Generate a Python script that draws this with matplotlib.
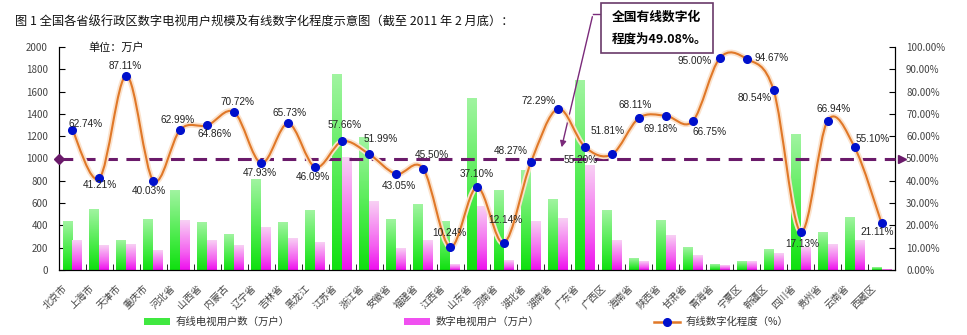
import numpy as np
import matplotlib
matplotlib.use("Agg")
import matplotlib.pyplot as plt
import matplotlib.patheffects as pe
from matplotlib.path import Path
from matplotlib.patches import PathPatch, Patch, Rectangle
from matplotlib.lines import Line2D
from matplotlib.colors import LinearSegmentedColormap

plt.rcParams['font.family'] = ['Noto Sans CJK SC', 'DejaVu Sans']

provinces = ["北京市", "上海市", "天津市", "重庆市", "河北省", "山西省", "内蒙古", "辽宁省",
             "吉林省", "黑龙江", "江苏省", "浙江省", "安徽省", "福建省", "江西省", "山东省",
             "河南省", "湖北省", "湖南省", "广东省", "广西区", "海南省", "陕西省", "甘肃省",
             "青海省", "宁夏区", "新疆区", "四川省", "贵州省", "云南省", "西藏区"]

# 有线电视用户数（万户）
cable_users = [439, 546, 269, 457, 716, 424, 316, 815, 424, 537, 1749, 1185, 457, 585,
               439, 1540, 716, 896, 636, 1701, 537, 104, 448, 206, 46, 76, 188, 1218,
               340, 475, 18]
# 数字电视用户（万户）
digital_users = [269, 224, 233, 179, 448, 269, 224, 385, 279, 250, 1005, 618, 197, 269,
                 45, 567, 84, 433, 466, 934, 269, 73, 313, 134, 43, 72, 151, 206,
                 226, 262, 4]
# 有线数字化程度（%）
digit_rate = [62.74, 41.21, 87.11, 40.03, 62.99, 64.86, 70.72, 47.93, 65.73, 46.09,
              57.66, 51.99, 43.05, 45.50, 10.24, 37.10, 12.14, 48.27, 72.29, 55.20,
              51.81, 68.11, 69.18, 66.75, 95.00, 94.67, 80.54, 17.13, 66.94, 55.10, 21.11]
national_rate = 50.0

# label offsets in pixels (dx, dy), y upward
label_offsets = [(13, 6), (0, -7), (-1, 10), (-5, -10), (-3, 10), (7, -9), (3, 10), (-1, -10),
                 (1, 10), (-2, -10), (2, 16), (12, 15), (3, -12), (9, 14), (-1, 14), (0, 13),
                 (1, 23), (-20, 11), (-19, 8), (-4, -13), (-4, 23), (-4, 13), (-5, -13),
                 (17, -11), (-25, -3), (25, 1), (-19, -8), (2, -12), (6, 12), (18, 8), (-4, -9)]

fig = plt.figure(figsize=(9.67, 3.35), dpi=100)
ax = fig.add_axes([59 / 967, 1 - 270 / 335, 836 / 967, 223 / 335])
ax2 = ax.twinx()

x = np.arange(len(provinces))
w = 0.37

green_cmap = LinearSegmentedColormap.from_list(
    "g", [(0.0, "#10e010"), (0.35, "#40ea40"), (1.0, "#a0f4a0")])
pink_cmap = LinearSegmentedColormap.from_list(
    "p", [(0.0, "#ee10ee"), (0.35, "#f460f0"), (1.0, "#f8d0f4")])
grad = np.linspace(1, 0, 64).reshape(-1, 1)


def gradient_bars(axis, bars, cmap):
    for b in bars:
        x0, y0 = b.get_x(), b.get_y()
        x1, y1 = x0 + b.get_width(), y0 + b.get_height()
        axis.imshow(grad, extent=[x0, x1, y0, y1], aspect="auto", cmap=cmap,
                    vmin=0, vmax=1, zorder=2, interpolation="bilinear")
        b.set_visible(False)


g_bars = ax.bar(x - w / 2, cable_users, w, color="#30e830", zorder=2)
p_bars = ax.bar(x + w / 2, digital_users, w, color="#f060f0", zorder=2)
gradient_bars(ax, g_bars, green_cmap)
gradient_bars(ax, p_bars, pink_cmap)

ax.set_xlim(-0.5, len(provinces) - 0.5)
ax.set_ylim(0, 2000)
ax.set_yticks(np.arange(0, 2001, 200))
ax.tick_params(axis="y", direction="in", length=4, pad=8, labelsize=7, labelcolor="#444")

# category names drawn under the axis, tick marks between categories
ax.set_xticks([])
ax.set_xticks(np.arange(-0.5, len(provinces), 1), minor=True)
ax.tick_params(axis="x", which="minor", direction="in", length=4)
for xi, name in zip(x, provinces):
    ax.annotate(name, (xi, 0), xycoords=("data", "axes fraction"),
                xytext=(-7, -16), textcoords="offset pixels", rotation=45,
                ha="right", va="center", rotation_mode="anchor",
                fontsize=7, color="#444", annotation_clip=False)

for s in ["top"]:
    ax.spines[s].set_visible(False)
    ax2.spines[s].set_visible(False)

ax2.set_ylim(0, 100)
ax2.set_yticks(np.arange(0, 101, 10))
ax2.set_yticklabels(["%.2f%%" % v for v in np.arange(0, 101, 10)])
ax2.tick_params(axis="y", direction="in", length=4, pad=8, labelsize=7, labelcolor="#444")

# national average dashed line
ax2.plot([-0.5, len(provinces) - 0.5], [national_rate, national_rate], color="#6a1a6a",
         lw=2.2, dashes=(4.5, 2.8), zorder=3, clip_on=False)
ax2.plot([-0.5], [national_rate], marker="D", ms=5, color="#6a1a6a", clip_on=False, zorder=3)
ax2.plot([len(provinces) - 0.5 + 0.25], [national_rate], marker=">", ms=6,
         color="#6a1a6a", clip_on=False, zorder=3)

# smoothed line through the rate points (Catmull-Rom as cubic Bezier)
pts = np.column_stack([x, digit_rate]).astype(float)
ext = np.vstack([pts[0], pts, pts[-1]])
verts = [tuple(pts[0])]
codes = [Path.MOVETO]
for i in range(len(pts) - 1):
    p0, p1, p2, p3 = ext[i], ext[i + 1], ext[i + 2], ext[i + 3]
    c1 = p1 + (p2 - p0) / 6
    c2 = p2 - (p3 - p1) / 6
    verts += [tuple(c1), tuple(c2), tuple(p2)]
    codes += [Path.CURVE4] * 3
curve = PathPatch(Path(verts, codes), fill=False, edgecolor="#e07828", lw=1.5, zorder=4,
                  path_effects=[pe.Stroke(linewidth=4, foreground="#fbe2cc"), pe.Normal()])
ax2.add_patch(curve)
ax2.plot(x, digit_rate, "o", color="#0010cc", ms=5.5, zorder=5)

for xi, v, (dx, dy) in zip(x, digit_rate, label_offsets):
    ax2.annotate("%.2f%%" % v, (xi, v), xytext=(dx, dy), textcoords="offset pixels",
                 ha="center", va="center", fontsize=7.2, family="Liberation Sans",
                 color="#222", zorder=6)

# title and unit
fig.text(15 / 967, 1 - 22 / 335, "图 1 全国各省级行政区数字电视用户规模及有线数字化程度示意图（截至 2011 年 2 月底）：",
         fontsize=8.8, va="center", ha="left", color="#111")
fig.text(88 / 967, 1 - 48 / 335, "单位：万户", fontsize=8, va="center", ha="left", color="#111")

# callout box
fig.patches.append(Rectangle((601 / 967, 1 - 53 / 335), 112 / 967, 50 / 335,
                             transform=fig.transFigure, facecolor="white",
                             edgecolor="#6a3a6a", lw=1.2, zorder=7))
fig.text(612 / 967, 1 - 17 / 335, "全国有线数字化", fontsize=9.2, fontweight="bold",
         va="center", ha="left", zorder=8)
fig.text(612 / 967, 1 - 39 / 335, "程度为49.08%。", fontsize=9.0, fontweight="bold",
         va="center", ha="left", zorder=8)
fig.add_artist(Line2D([593 / 967, 601 / 967], [1 - 14 / 335, 1 - 14 / 335],
                      transform=fig.transFigure, color="#7a2a7a", lw=1))
ax2.annotate("", xy=(561, 335 - 150), xycoords="figure pixels",
             xytext=(593, 335 - 14), textcoords="figure pixels",
             arrowprops=dict(arrowstyle="-|>", color="#7a2a7a", lw=1, mutation_scale=9))

# legend
handles = [Patch(facecolor="#40e840", edgecolor="none"),
           Patch(facecolor="#f050f0", edgecolor="none"),
           Line2D([0], [0], color="#e07828", lw=1.8, marker="o", ms=5.5,
                  markerfacecolor="#0010cc", markeredgecolor="#0010cc")]
labels = ["有线电视用户数（万户）", "数字电视用户（万户）", "有线数字化程度（%）"]
fig.legend(handles, labels, loc="center left", bbox_to_anchor=(135 / 967, 13 / 335),
           ncol=3, frameon=False, fontsize=7.5, handlelength=2.5, handleheight=0.6,
           columnspacing=11.0, handletextpad=0.5, labelcolor="#333")

fig.savefig("out.png", dpi=100)
